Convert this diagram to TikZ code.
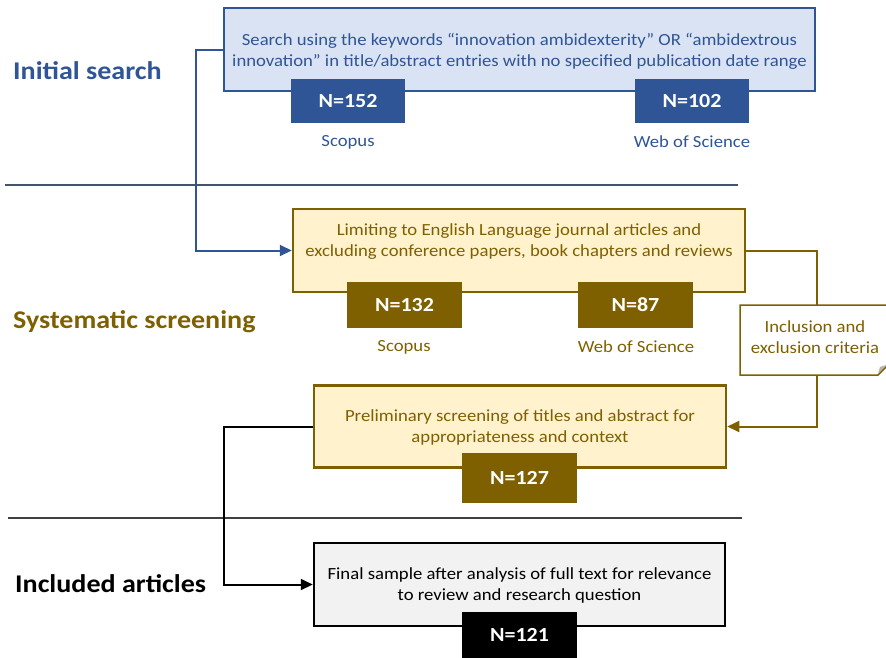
\documentclass[tikz,border=0pt]{standalone}
\usepackage{fontspec}
\setmainfont{Carlito}[FakeStretch=1.1]
\usetikzlibrary{arrows.meta}
\definecolor{bdark}{HTML}{2F5597}
\definecolor{blight}{HTML}{DAE3F3}
\definecolor{odark}{HTML}{7F6000}
\definecolor{olight}{HTML}{FFF2CC}
\definecolor{glight}{HTML}{F2F2F2}
\definecolor{sep}{HTML}{44546A}
\tikzset{
  box/.style={draw, line width=2.5pt, inner sep=0pt},
  nbox/.style={inner sep=0pt, text=white, font=\fontsize{20}{22}\selectfont\bfseries},
  body/.style={align=center, font=\fontsize{17}{21}\selectfont, inner sep=0pt},
  lbl/.style={font=\fontsize{17}{20}\selectfont, inner sep=0pt},
  head/.style={font=\fontsize{25.5}{28}\selectfont\bfseries, inner sep=0pt, anchor=west},
  conn/.style={line width=2pt, -{Triangle[length=12pt,width=11pt]}},
}
\begin{document}
\begin{tikzpicture}[x=1pt,y=-1pt]
\useasboundingbox (0,0) rectangle (886,657);
% separators
\draw[sep, line width=1.2pt] (5,185) -- (738,185);
\draw[black!75, line width=1.2pt] (8,518) -- (742,518);
% headings
\node[head, text=bdark] (h1) at (13,71) {Initial search};
\node[head, text=odark] (h2) at (13,322) {Systematic screening};
\node[head, text=black] (h3) at (15,584) {Included articles};
% box 1
\node[box, draw=bdark, fill=blight, minimum width=591pt, minimum height=83pt] (b1) at (519.5,49.5) {};
\node[body, text=bdark] (t1) at (519.5,51) {Search using the keywords “innovation ambidexterity” OR “ambidextrous\\innovation” in title/abstract entries with no specified publication date range};
\node[nbox, fill=bdark, minimum width=114pt, minimum height=44pt] (n1a) at (348,101) {N=152};
\node[nbox, fill=bdark, minimum width=114pt, minimum height=44pt] (n1b) at (692,101) {N=102};
\node[lbl, text=bdark] (s1a) at (348,142) {Scopus};
\node[lbl, text=bdark] (s1b) at (692,142) {Web of Science};
% box 2
\node[box, draw=odark, fill=olight, minimum width=452pt, minimum height=83pt] (b2) at (519,250.5) {};
\node[body, text=odark] (t2) at (519,241.5) {Limiting to English Language journal articles and\\excluding conference papers, book chapters and reviews};
\node[nbox, fill=odark, minimum width=115pt, minimum height=46pt] (n2a) at (404.5,305) {N=132};
\node[nbox, fill=odark, minimum width=115pt, minimum height=46pt] (n2b) at (635.5,305) {N=87};
\node[lbl, text=odark] (s2a) at (404,347) {Scopus};
\node[lbl, text=odark] (s2b) at (636,347) {Web of Science};
% note
\coordinate (nt) at (817,305);
\coordinate (nb) at (817,375);
\draw[odark, fill=white, line width=1.5pt] (740,305) -- (888,305) -- (888,365) -- (878,375) -- (740,375) -- cycle;
\fill[gray!60] (886,365) -- (878,374) -- (880,367) -- cycle;
\node[body, text=odark] (note) at (815,337) {Inclusion and\\exclusion criteria};
% box 3
\node[box, draw=odark, fill=olight, minimum width=412pt, minimum height=82pt] (b3) at (520,426.5) {};
\node[body, text=odark] (t3) at (520,427) {Preliminary screening of titles and abstract for\\appropriateness and context};
\node[nbox, fill=odark, minimum width=115pt, minimum height=50pt] (n3) at (519.5,478) {N=127};
% box 4
\node[box, draw=black, fill=glight, minimum width=411pt, minimum height=83pt] (b4) at (519.5,584.5) {};
\node[body, text=black] (t4) at (519.5,585) {Final sample after analysis of full text for relevance\\to review and research question};
\node[nbox, fill=black, minimum width=115pt, minimum height=46pt] (n4) at (519.5,635) {N=121};
% connectors
\draw[conn, bdark] (b1.west) -- (196,49.5) |- (b2.west);
\draw[odark, line width=2pt] (b2.east) -| (nt);
\draw[conn, odark] (nb) |- (b3.east);
\draw[conn, black] (b3.west) -- (224,426.5) |- (b4.west);
\end{tikzpicture}
\end{document}
